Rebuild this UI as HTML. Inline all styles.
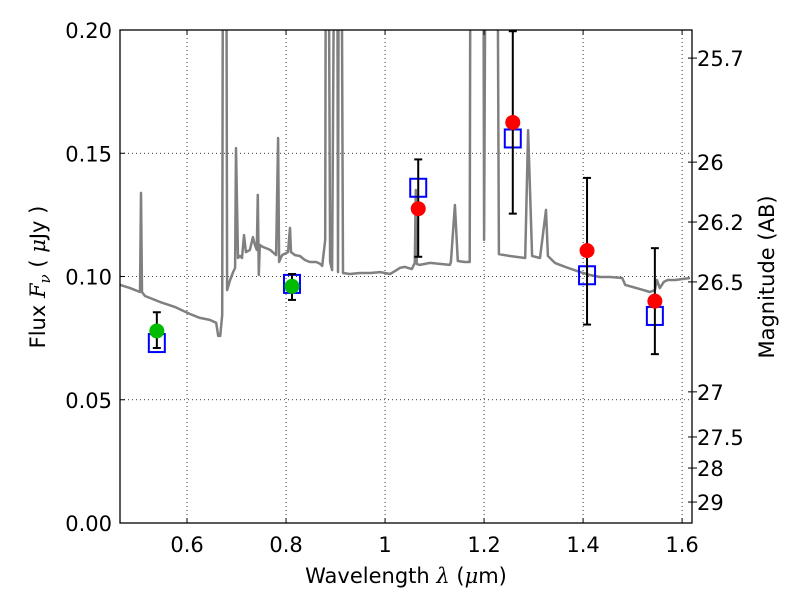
<!DOCTYPE html>
<html><head><meta charset="utf-8">
<style>
body{margin:0;background:#fff;}
svg text{font-family:"DejaVu Sans","Liberation Sans",sans-serif;fill:#000;}
</style></head>
<body>
<svg id="chart" width="800" height="600" xmlns="http://www.w3.org/2000/svg">
<defs><clipPath id="clip"><rect x="120" y="30" width="572" height="493"/></clipPath></defs>
<rect x="0" y="0" width="800" height="600" fill="#fff"/>
<g id="grid"></g>
<g id="spec" clip-path="url(#clip)"></g>
<g id="pts"></g>
<rect x="120" y="30" width="572" height="493" fill="none" stroke="#000" stroke-width="1.3"/>
<g id="axes"></g>
<text x="406" y="583" font-size="21" text-anchor="middle">Wavelength  <tspan font-family="DejaVu Serif" font-style="italic">λ</tspan> (<tspan font-family="DejaVu Serif" font-style="italic">μ</tspan>m)</text>
<text transform="translate(45,277) rotate(-90)" font-size="21" text-anchor="middle">Flux  <tspan font-family="DejaVu Serif" font-style="italic">F</tspan><tspan font-family="DejaVu Serif" font-style="italic" font-size="15" dy="5">ν</tspan><tspan dy="-5">  (  </tspan><tspan font-family="DejaVu Serif" font-style="italic">μ</tspan>Jy )</text>
<text transform="translate(774,277) rotate(-90)" font-size="21" text-anchor="middle">Magnitude (AB)</text>
</svg>
<script>
const xTicks=[0.6,0.8,1,1.2,1.4,1.6];
const xTickLabels=["0.6","0.8","1","1.2","1.4","1.6"];
const yTicks=[0,0.05,0.10,0.15,0.20];
const yTickLabels=["0.00","0.05","0.10","0.15","0.20"];
const magLabels=["25.7","26","26.2","26.5","27","27.5","28","29"];
const magFlux=[0.1886,0.1464,0.1221,0.0978,0.0532,0.0349,0.0223,0.0085];
const specWave=[0.465,0.485,0.505,0.507,0.509,0.515,0.545,0.576,0.606,0.626,0.646,0.659,0.663,0.667,0.671,0.673,0.679,0.681,0.687,0.693,0.697,0.699,0.703,0.707,0.711,0.715,0.719,0.727,0.733,0.737,0.741,0.743,0.745,0.747,0.753,0.768,0.780,0.784,0.786,0.792,0.804,0.808,0.810,0.818,0.828,0.838,0.848,0.861,0.869,0.873,0.879,0.881,0.885,0.889,0.893,0.899,0.903,0.905,0.907,0.911,0.915,0.929,0.949,0.970,0.990,1.010,1.020,1.030,1.040,1.054,1.060,1.062,1.064,1.070,1.091,1.111,1.131,1.133,1.141,1.147,1.161,1.171,1.173,1.198,1.200,1.204,1.226,1.230,1.252,1.283,1.289,1.297,1.313,1.325,1.329,1.343,1.364,1.394,1.414,1.434,1.455,1.479,1.485,1.515,1.535,1.545,1.549,1.555,1.563,1.571,1.586,1.616];
const specFlux=[0.0966,0.0953,0.0937,0.1339,0.0937,0.0921,0.0897,0.0876,0.0848,0.0832,0.0824,0.0812,0.0759,0.0759,0.0844,0.30,0.30,0.0945,0.0986,0.1018,0.1035,0.1521,0.1075,0.1083,0.1075,0.1168,0.1099,0.1108,0.1160,0.1128,0.1108,0.1331,0.1006,0.1128,0.1120,0.1108,0.1087,0.1562,0.1059,0.1087,0.1099,0.1197,0.1099,0.1087,0.1083,0.1067,0.1059,0.1059,0.1051,0.1043,0.1148,0.30,0.30,0.1059,0.1026,0.30,0.30,0.1018,0.30,0.30,0.1014,0.1010,0.1014,0.1014,0.1018,0.1010,0.1022,0.1035,0.1039,0.1030,0.1055,0.1351,0.1051,0.1047,0.1055,0.1051,0.1047,0.1059,0.1290,0.1063,0.1059,0.1059,0.30,0.30,0.1148,0.30,0.30,0.1091,0.1083,0.1075,0.1594,0.1083,0.1075,0.1270,0.1083,0.1055,0.1039,0.1018,0.1006,0.0998,0.0998,0.0994,0.0966,0.0949,0.0937,0.0945,0.0986,0.0953,0.0978,0.0986,0.0986,0.0994];
const obsWave=[0.539,0.812,1.067,1.258,1.408,1.545];
const obsFlux=[0.0779,0.0960,0.1275,0.1625,0.1105,0.0900];
const obsLow=[0.0710,0.0905,0.1080,0.1255,0.0805,0.0685];
const obsHigh=[0.0855,0.1010,0.1475,0.1995,0.1400,0.1115];
const obsColor=["#00bb00","#00bb00","#ff0000","#ff0000","#ff0000","#ff0000"];
const modelFlux=[0.0730,0.0970,0.1360,0.1560,0.1005,0.0840];

const X0=0.4646,X1=1.62,PX0=120,PX1=692,PY0=523,PY1=30,Y1=0.2;
const sx=v=>PX0+(v-X0)/(X1-X0)*(PX1-PX0);
const sy=v=>PY0-v/Y1*(PY0-PY1);
const NS="http://www.w3.org/2000/svg";
function mk(tag,attrs,parent){const e=document.createElementNS(NS,tag);for(const k in attrs)e.setAttribute(k,attrs[k]);parent.appendChild(e);return e;}
const grid=document.getElementById('grid'),axes=document.getElementById('axes'),spec=document.getElementById('spec'),pts=document.getElementById('pts');
xTicks.forEach((t,i)=>{const x=sx(t);
 const g=mk('line',{x1:x,x2:x,y1:PY1,y2:PY0,stroke:'#000','stroke-width':0.8,'stroke-dasharray':'1,3'},grid);
 
 mk('line',{x1:x,x2:x,y1:PY0,y2:PY0-5,stroke:'#000'},axes);mk('line',{x1:x,x2:x,y1:PY1,y2:PY1+5,stroke:'#000'},axes);
 const l=mk('text',{x:x,y:552,'font-size':21,'text-anchor':'middle'},axes);l.textContent=xTickLabels[i];
 });
yTicks.forEach((t,i)=>{const y=sy(t);
 const g=mk('line',{x1:PX0,x2:PX1,y1:y,y2:y,stroke:'#000','stroke-width':0.8,'stroke-dasharray':'1,3'},grid);
 
 mk('line',{x1:PX0,x2:PX0+5,y1:y,y2:y,stroke:'#000'},axes);
 const l=mk('text',{x:112,y:y+8,'font-size':21,'text-anchor':'end'},axes);l.textContent=yTickLabels[i];
 });
magLabels.forEach((m,i)=>{const y=sy(magFlux[i]);
 mk('line',{x1:PX1,x2:PX1+5,y1:y,y2:y,stroke:'#000'},axes);
 mk('line',{x1:PX1-4,x2:PX1,y1:y,y2:y,stroke:'#000'},axes);
 const l=mk('text',{x:697,y:y+8,'font-size':21},axes);l.textContent=m;
 });
const d=specWave.map((w,i)=>(i?'L':'M')+sx(w).toFixed(1)+','+sy(specFlux[i]).toFixed(1)).join('');
const sp=mk('path',{d:d,fill:'none',stroke:'#808080','stroke-width':2.5,'stroke-linejoin':'round'},spec);


obsWave.forEach((w,i)=>{const x=sx(w);
 const sq=mk('rect',{x:x-8,y:sy(modelFlux[i])-9,width:16,height:18,fill:'none',stroke:'#0000ff','stroke-width':2},pts);
 
 const eb=mk('g',{stroke:'#000','stroke-width':2},pts);
 
 const yl=sy(obsLow[i]),yh=sy(obsHigh[i]);
 mk('line',{x1:x,x2:x,y1:yl,y2:yh},eb);mk('line',{x1:x-4,x2:x+4,y1:yl,y2:yl},eb);mk('line',{x1:x-4,x2:x+4,y1:yh,y2:yh},eb);
 const c=mk('circle',{cx:x,cy:sy(obsFlux[i]),r:7.5,fill:obsColor[i]},pts);
 });
</script>
</body></html>
